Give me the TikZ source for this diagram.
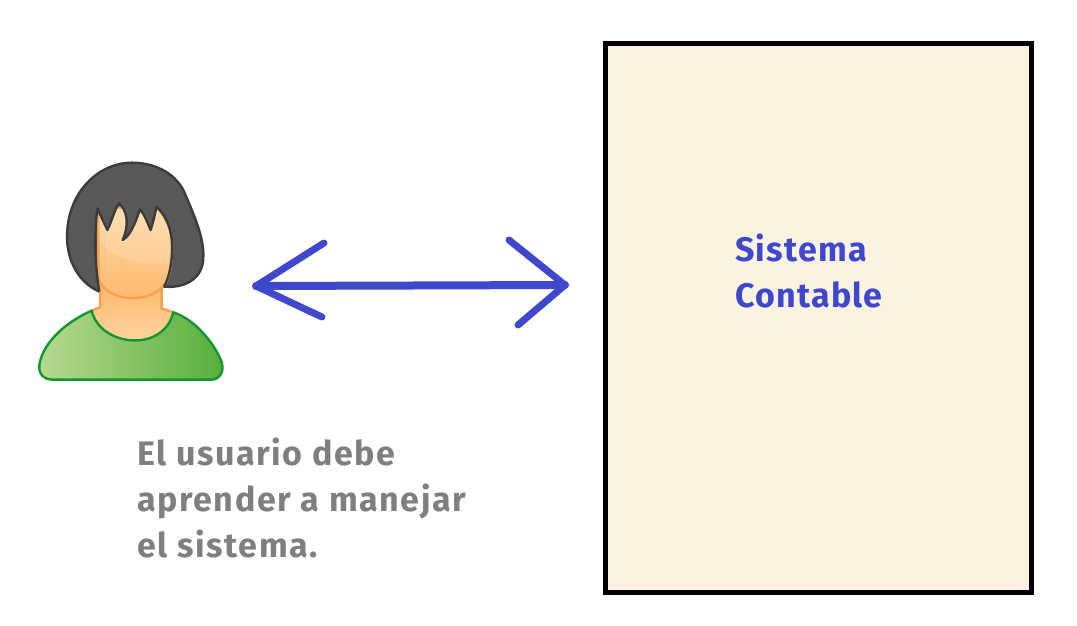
\documentclass[tikz,border=0pt]{standalone}
\usepackage{fontspec}
\setmainfont{Fira Sans}
\newfontfamily\graylabel[LetterSpace=4.7]{Fira Sans}
\newfontfamily\bluelabel[LetterSpace=3.6]{Fira Sans}
\usepackage{xcolor}
\usetikzlibrary{calc,positioning}
\definecolor{ink}{HTML}{3F48CC}
\definecolor{slate}{HTML}{7F7F7F}
\definecolor{cream}{HTML}{FAF3E1}
\definecolor{hair}{HTML}{585858}
\definecolor{hairline}{HTML}{3C3C3C}
\definecolor{skin}{HTML}{FFB76B}
\definecolor{skinlight}{HTML}{FFD9A6}
\definecolor{skinline}{HTML}{F5A24E}
\definecolor{shirtline}{HTML}{12962F}
\definecolor{shirtleft}{HTML}{B8D98F}
\definecolor{shirtright}{HTML}{57AE3C}
\tikzset{
  stroke/.style={ink,line width=7pt,line cap=round,line join=round},
  label/.style={font=\bfseries\fontsize{34}{46}\selectfont,align=left,anchor=north west,inner sep=0pt},
  outline/.style={line width=2.4pt,line join=round},
}
\begin{document}
\begin{tikzpicture}[x=1pt,y=-1pt]
  \useasboundingbox (0,0) rectangle (1077,625);
  \node[draw=black,fill=cream,line width=5pt,minimum width=426pt,minimum height=549pt,inner sep=0pt] (sistema) at (818,317.5) {};
  \node[label,text=ink] (titulo) at (735,234) {\bluelabel Sistema\\\bluelabel Contable};
  \node[label,text=slate] (usuario) at (137,438) {\graylabel El usuario debe\\\graylabel aprender a manejar\\\graylabel el sistema.};
  % arrow
  \coordinate (izq) at (256,286);
  \coordinate (der) at (565,285);
  \draw[stroke,line width=8pt] (izq) -- (der);
  \draw[stroke] (324,243) -- (izq) -- (322,317);
  \draw[stroke] (509,240) -- (der) -- (518,325);
  % person, in units of the crop
  \begin{scope}[shift={(20,150)},x=0.3333pt,y=-0.3333pt]
    % hair
    \path[fill=hair,draw=hairline,outline] (238,425) .. controls (170,395) and (135,320) .. (142,240) .. controls (150,120) and (240,38) .. (335,38) .. controls (400,38) and (460,65) .. (490,120) .. controls (520,190) and (552,260) .. (550,320) .. controls (550,390) and (490,415) .. (432,410) -- cycle;
    % neck
    \path[draw=skinline,outline,top color=skin,bottom color=skinlight] (240,400) -- (240,472) -- (215,482) -- (215,600) -- (460,600) -- (460,487) -- (425,475) -- (425,400) -- cycle;
    % shirt
    \path[draw=shirtline,outline,left color=shirtleft,right color=shirtright] (215,482) .. controls (150,510) and (70,570) .. (58,645) .. controls (55,675) and (75,689) .. (95,689) -- (575,689) .. controls (600,689) and (612,665) .. (606,640) .. controls (590,590) and (530,510) .. (460,487) .. controls (430,610) and (240,590) .. (215,482) -- cycle;
    % face
    \path[draw=skinline,outline,top color=skinlight,bottom color=skin] (235,175) -- (235,385) .. controls (260,460) and (400,465) .. (440,395) .. controls (455,360) and (460,300) .. (452,250) .. controls (445,215) and (425,190) .. (410,170) -- cycle;
    \fill[white,opacity=0.15] (235,270) .. controls (280,330) and (380,355) .. (454,335) .. controls (458,290) and (455,230) .. (410,170) -- (235,175) -- cycle;
    % fringe
    \fill[hair] (232,175) -- (262,240) .. controls (275,215) and (285,175) .. (297,160) .. controls (320,180) and (330,220) .. (308,270) .. controls (335,255) and (350,205) .. (360,178) .. controls (375,195) and (385,225) .. (392,240) .. controls (400,215) and (405,190) .. (410,170) .. controls (435,195) and (450,225) .. (455,265) .. controls (470,200) and (430,90) .. (330,100) .. controls (260,105) and (225,140) .. (232,175) -- cycle;
    \draw[hairline,outline] (238,425) .. controls (225,350) and (222,260) .. (232,175) -- (262,240) .. controls (275,215) and (285,175) .. (297,160) .. controls (320,180) and (330,220) .. (308,270) .. controls (335,255) and (350,205) .. (360,178) .. controls (375,195) and (385,225) .. (392,240) .. controls (400,215) and (405,190) .. (410,170) .. controls (435,195) and (450,225) .. (455,265) .. controls (460,320) and (450,380) .. (432,410);
  \end{scope}
\end{tikzpicture}
\end{document}
